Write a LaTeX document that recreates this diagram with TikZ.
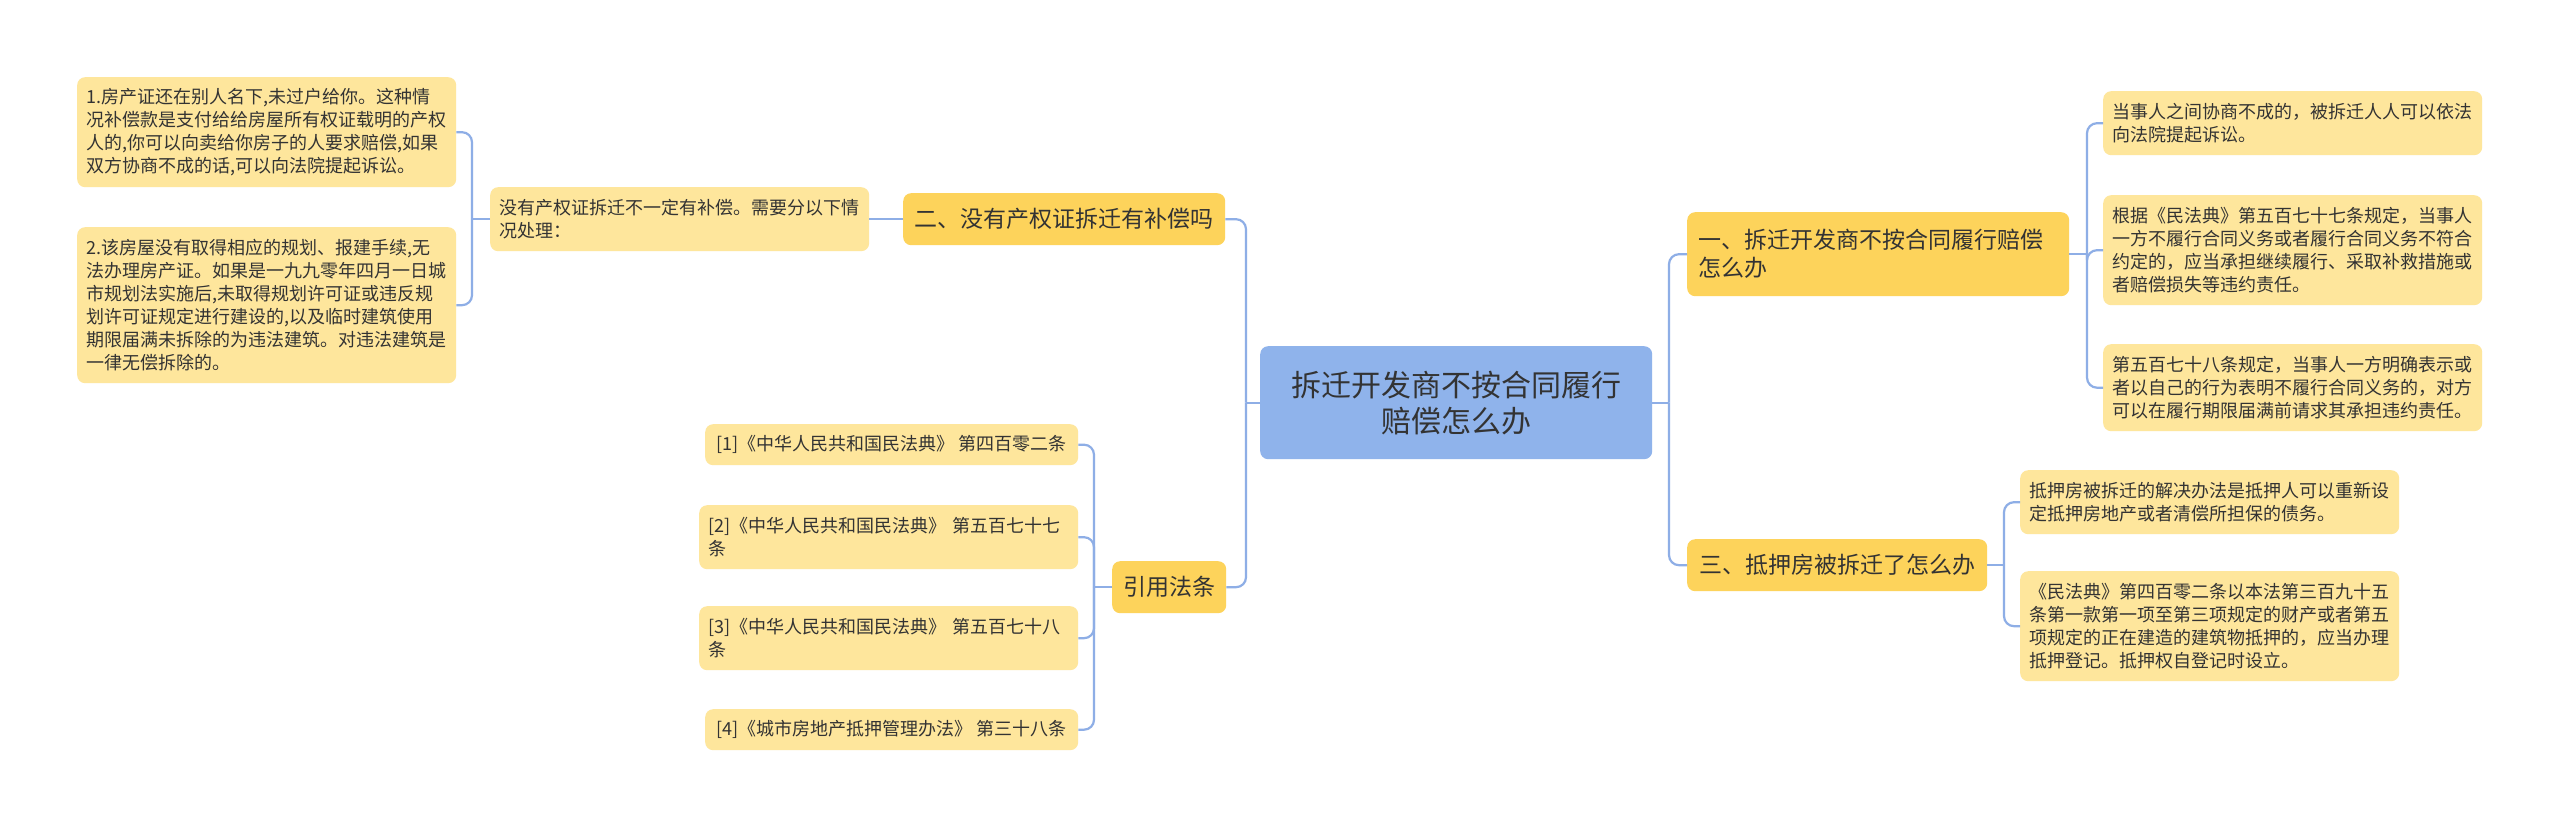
\documentclass[tikz,border=0pt]{standalone}
\usepackage{fontspec}
\newfontfamily\cjk{Noto Sans CJK SC}
\definecolor{rootc}{HTML}{8FB3EB}
\definecolor{brc}{HTML}{FDD35B}
\definecolor{leafc}{HTML}{FEE69C}
\definecolor{linec}{HTML}{8EAEE6}
\definecolor{txt}{HTML}{333333}
\begin{document}
\begin{tikzpicture}[x=1pt,y=-1pt,
  box/.style={rounded corners=8pt, anchor=north west, inner ysep=0pt, text=txt},
  rootbox/.style={box, fill=rootc, font=\cjk\fontsize{30}{36}\selectfont, align=center},
  brbox/.style={box, fill=brc, font=\cjk\fontsize{23}{28}\selectfont, inner xsep=11pt},
  leafbox/.style={box, fill=leafc, font=\cjk\fontsize{18}{23}\selectfont, inner xsep=9pt},
  conn/.style={draw=linec, line width=2.2pt, rounded corners=10pt}]
\fill[white] (0,0) rectangle (2560,827);
\useasboundingbox (0,0) rectangle (2560,827);

% spine coordinates
\coordinate (sL) at (1246,0);
\coordinate (sR) at (1669,0);
\coordinate (s1) at (2087,0);
\coordinate (s3) at (2004,0);
\coordinate (s0) at (472,0);
\coordinate (sQ) at (1094,0);

% root
\node[rootbox, minimum width=392pt, minimum height=113pt] (root) at (1260,346) {拆迁开发商不按合同履行\\赔偿怎么办};

% branch 1
\node[brbox, minimum width=382pt, minimum height=84pt, text width=360pt, align=left] (b1) at (1687,212) {一、拆迁开发商不按合同履行赔偿\\怎么办};
\node[leafbox, minimum width=379pt, minimum height=64pt, text width=361pt, align=left] (c1) at (2103,91) {当事人之间协商不成的，被拆迁人人可以依法\\向法院提起诉讼。};
\node[leafbox, minimum width=379pt, minimum height=110pt, text width=361pt, align=left] (c2) at (2103,195) {根据《民法典》第五百七十七条规定，当事人\\一方不履行合同义务或者履行合同义务不符合\\约定的，应当承担继续履行、采取补救措施或\\者赔偿损失等违约责任。};
\node[leafbox, minimum width=379pt, minimum height=87pt, text width=361pt, align=left] (c3) at (2103,344) {第五百七十八条规定，当事人一方明确表示或\\者以自己的行为表明不履行合同义务的，对方\\可以在履行期限届满前请求其承担违约责任。};

% branch 3
\node[brbox, minimum width=300pt, minimum height=52pt] (b3) at (1687,539) {三、抵押房被拆迁了怎么办};
\node[leafbox, minimum width=379pt, minimum height=64pt, text width=361pt, align=left] (d1) at (2020,470) {抵押房被拆迁的解决办法是抵押人可以重新设\\定抵押房地产或者清偿所担保的债务。};
\node[leafbox, minimum width=379pt, minimum height=110pt, text width=361pt, align=left] (d2) at (2020,571) {《民法典》第四百零二条以本法第三百九十五\\条第一款第一项至第三项规定的财产或者第五\\项规定的正在建造的建筑物抵押的，应当办理\\抵押登记。抵押权自登记时设立。};

% branch 2
\node[brbox, minimum width=322pt, minimum height=52pt] (b2) at (903,193) {二、没有产权证拆迁有补偿吗};
\node[leafbox, minimum width=379pt, minimum height=64pt, text width=361pt, align=left] (b0) at (490,187) {没有产权证拆迁不一定有补偿。需要分以下情\\况处理：};
\node[leafbox, minimum width=379pt, minimum height=110pt, text width=361pt, align=left] (a1) at (77,77) {1.房产证还在别人名下,未过户给你。这种情\\况补偿款是支付给给房屋所有权证载明的产权\\人的,你可以向卖给你房子的人要求赔偿,如果\\双方协商不成的话,可以向法院提起诉讼。};
\node[leafbox, minimum width=379pt, minimum height=156pt, text width=361pt, align=left] (a2) at (77,227) {2.该房屋没有取得相应的规划、报建手续,无\\法办理房产证。如果是一九九零年四月一日城\\市规划法实施后,未取得规划许可证或违反规\\划许可证规定进行建设的,以及临时建筑使用\\期限届满未拆除的为违法建筑。对违法建筑是\\一律无偿拆除的。};

% branch 4
\node[brbox, minimum width=113pt, minimum height=52pt] (b4) at (1112,561) {引用法条};
\node[leafbox, minimum width=373pt, minimum height=41pt] (r1) at (705,424) {[1]《中华人民共和国民法典》 第四百零二条};
\node[leafbox, minimum width=379pt, minimum height=64pt, text width=361pt, align=left] (r2) at (699,505) {[2]《中华人民共和国民法典》 第五百七十七\\条};
\node[leafbox, minimum width=379pt, minimum height=64pt, text width=361pt, align=left] (r3) at (699,606) {[3]《中华人民共和国民法典》 第五百七十八\\条};
\node[leafbox, minimum width=373pt, minimum height=41pt] (r4) at (705,709) {[4]《城市房地产抵押管理办法》 第三十八条};

% connectors: parent stub, then spine to each child
\draw[conn] (root.east) -- (root.east -| sR);
\draw[conn] (root.east -| sR) |- (b1.west);
\draw[conn] (root.east -| sR) |- (b3.west);
\draw[conn] (root.west) -- (root.west -| sL);
\draw[conn] (root.west -| sL) |- (b2.east);
\draw[conn] (root.west -| sL) |- (b4.east);
\draw[conn] (b1.east) -- (b1.east -| s1);
\draw[conn] (b1.east -| s1) |- (c1.west);
\draw[conn] (b1.east -| s1) |- (c2.west);
\draw[conn] (b1.east -| s1) |- (c3.west);
\draw[conn] (b3.east) -- (b3.east -| s3);
\draw[conn] (b3.east -| s3) |- (d1.west);
\draw[conn] (b3.east -| s3) |- (d2.west);
\draw[conn] (b2.west) -- (b0.east);
\draw[conn] (b0.west) -- (b0.west -| s0);
\draw[conn] (b0.west -| s0) |- (a1.east);
\draw[conn] (b0.west -| s0) |- (a2.east);
\draw[conn] (b4.west) -- (b4.west -| sQ);
\draw[conn] (b4.west -| sQ) |- (r1.east);
\draw[conn] (b4.west -| sQ) |- (r2.east);
\draw[conn] (b4.west -| sQ) |- (r3.east);
\draw[conn] (b4.west -| sQ) |- (r4.east);
\end{tikzpicture}
\end{document}
